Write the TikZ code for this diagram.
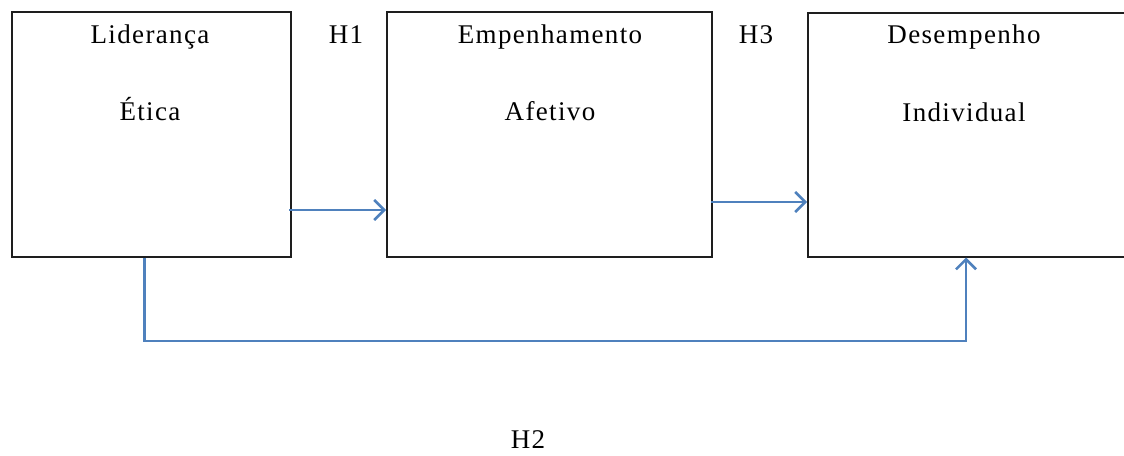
\documentclass[tikz,border=0pt]{standalone}
\usepackage{fontspec}
\setmainfont{Liberation Serif}[LetterSpace=5]
\usetikzlibrary{arrows.meta}
\definecolor{arrowblue}{RGB}{79,129,189}
\definecolor{boxline}{RGB}{30,30,30}
\tikzset{
  box/.style={draw=boxline, line width=2pt},
  lbl/.style={anchor=base, inner sep=0pt, font=\fontsize{27}{32}\selectfont},
  conn/.style={draw=arrowblue, line width=2.5pt, -{Straight Barb[length=10pt,width=20pt,line width=2.5pt]}},
}
\begin{document}
\begin{tikzpicture}[x=1pt,y=-1pt]
\useasboundingbox (0,0) rectangle (1124,455);
\clip (0,0) rectangle (1124,455);
% boxes
\node[box, minimum width=279pt, minimum height=245pt, inner sep=0pt, anchor=north west] (lid) at (11,10.5) {};
\node[box, minimum width=325pt, minimum height=245pt, inner sep=0pt, anchor=north west] (emp) at (386,10.5) {};
\node[box, minimum width=330pt, minimum height=244pt, inner sep=0pt, anchor=north west] (des) at (807,11.5) {};
% texts
\node[lbl] (t1a) at (150,43) {Liderança};
\node[lbl] (t1b) at (150,120) {Ética};
\node[lbl] (t2a) at (550,43) {Empenhamento};
\node[lbl] (t2b) at (550,120) {Afetivo};
\node[lbl] (t3a) at (964,43) {Desempenho};
\node[lbl] (t3b) at (964,121) {Individual};
\node[lbl] (h1) at (346,43) {H1};
\node[lbl] (h3) at (756,43) {H3};
\node[lbl] (h2) at (528,448) {H2};
% connectors
\coordinate (a1s) at ([xshift=-3pt]lid.east |- 0,210);
\coordinate (a2s) at ([xshift=-2pt]emp.east |- 0,202);
\draw[conn] (a1s) -- (emp.west |- a1s);
\draw[conn] (a2s) -- (des.west |- a2s);
\coordinate (c1) at (144.5,341);
\coordinate (c2) at (966,341);
\draw[conn] (lid.south -| c1) -- (c1) -- (c2) -- (des.south -| c2);
\end{tikzpicture}
\end{document}
